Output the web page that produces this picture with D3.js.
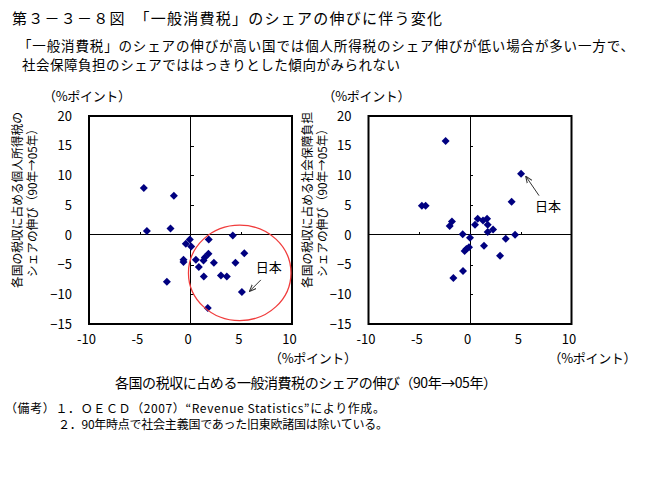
<!DOCTYPE html>
<html><head><meta charset="utf-8">
<script src="https://cdn.jsdelivr.net/npm/d3@7"></script>
<style>
body{margin:0;background:#fff;}
svg{display:block;font-family:"Noto Sans CJK JP","Noto Sans",sans-serif;}
</style></head>
<body>
<script>
// ---- Data ----
const title = "第３－３－８図　「一般消費税」のシェアの伸びに伴う変化";
const subtitle1 = "「一般消費税」のシェアの伸びが高い国では個人所得税のシェア伸びが低い場合が多い一方で、";
const subtitle2 = "社会保障負担のシェアでははっきりとした傾向がみられない";
const unitLabel = "（%ポイント）";
const xTitle = "各国の税収に占める一般消費税のシェアの伸び（90年→05年）";
const leftYTitle = ["各国の税収に占める個人所得税の", "シェアの伸び（90年→05年）"];
const rightYTitle = ["各国の税収に占める社会保障負担", "シェアの伸び（90年→05年）"];
const note1 = "（備考）１．ＯＥＣＤ（2007）“Revenue Statistics”により作成。";
const note2 = "２．90年時点で社会主義国であった旧東欧諸国は除いている。";
const xTicks = [-10, -5, 0, 5, 10];
const yTicks = [-15, -10, -5, 0, 5, 10, 15, 20];

// left panel: consumption tax share growth (x) vs personal income tax share growth (y)
const leftX = [-4.6, -1.64, -4.3, -1.97, -0.07, -0.46, 0.07, 1.8, 4.17, 5.3, 1.77, 1.41, 1.28, 0.53, -0.69, -0.69, 2.3, 4.43, 0.82, 1.31, 3.0, 3.58, -2.33, 5.06, 1.7];
const leftY = [7.9, 6.6, 0.67, 1.07, -0.79, -1.5, -1.97, -0.79, -0.1, -3.1, -3.2, -3.8, -4.3, -4.2, -4.2, -4.55, -4.7, -4.7, -5.4, -7.0, -6.85, -7.0, -7.9, -9.6, -12.3];
// right panel: consumption tax share growth (x) vs social security share growth (y)
const rightX = [-2.4, 5.03, 4.1, -4.74, -4.37, -1.78, -2.0, 0.76, 1.28, 1.68, 1.74, 0.49, 2.27, 1.74, -0.72, 0, 3.52, 4.44, 1.38, -0.1, -0.36, -0.53, 2.96, -0.69, -1.64];
const rightY = [15.8, 10.3, 5.56, 4.9, 4.9, 2.25, 1.5, 2.7, 2.4, 2.7, 1.7, 1.7, 0.9, 0.5, 0.1, -0.5, -0.67, 0, -1.85, -2.08, -2.36, -2.7, -3.5, -6.07, -7.25];
const japanLeft = [5.06, -9.6];
const japanRight = [5.03, 10.3];
const circleLeft = {cx: 4.85, cy: -6.4, rx: 5.05, ry: 8.03};

// ---- Layout ----
const W = 647, H = 491;
const svg = d3.select("body").append("svg").attr("width", W).attr("height", H);
const ff = '"Noto Sans CJK JP","Noto Sans",sans-serif';

svg.append("text").attr("x", 12).attr("y", 24).attr("font-size", 15)
  .attr("textLength", 430).attr("lengthAdjust", "spacing").text(title);
svg.append("text").attr("x", 18).attr("y", 51).attr("font-size", 13.5)
  .attr("textLength", 616).attr("lengthAdjust", "spacing").text(subtitle1);
svg.append("text").attr("x", 22).attr("y", 70).attr("font-size", 13.5)
  .attr("textLength", 378).attr("lengthAdjust", "spacing").text(subtitle2);

function panel(opt) {
  const x = d3.scaleLinear().domain([-10, 10]).range([opt.x0, opt.x1]);
  const y = d3.scaleLinear().domain([-15, 20]).range([324, 116]);
  const g = svg.append("g");

  // zero axes with inner ticks
  const ax = g.append("g").attr("transform", `translate(0,${y(0)})`)
    .call(d3.axisTop(x).tickValues([-5, 5]).tickSize(3).tickFormat(""));
  ax.select(".domain").remove();
  g.append("line").attr("x1", x(-10)).attr("x2", x(10)).attr("y1", y(0)).attr("y2", y(0))
    .attr("stroke", "#000").attr("stroke-width", 1).attr("shape-rendering", "crispEdges");
  const ay = g.append("g").attr("transform", `translate(${x(0)},0)`)
    .call(d3.axisRight(y).tickValues([-10, -5, 5, 10, 15]).tickSize(3).tickFormat(""));
  ay.select(".domain").remove();
  g.append("line").attr("x1", x(0)).attr("x2", x(0)).attr("y1", y(-15)).attr("y2", y(20))
    .attr("stroke", "#000").attr("stroke-width", 1).attr("shape-rendering", "crispEdges");
  g.selectAll(".tick line").attr("stroke", "#000").attr("shape-rendering", "crispEdges");

  // frame
  g.append("rect").attr("x", x(-10)).attr("y", y(20)).attr("width", x(10) - x(-10))
    .attr("height", y(-15) - y(20)).attr("fill", "none").attr("stroke", "#000").attr("stroke-width", 2);

  // outer labels
  const ly = g.append("g").attr("transform", `translate(${x(-10) - 17},0)`)
    .call(d3.axisLeft(y).tickValues(yTicks).tickSize(0).tickPadding(0));
  ly.select(".domain").remove();
  ly.selectAll("text").attr("font-size", 13).attr("font-family", ff).attr("fill", "#000");
  const lx = g.append("g").attr("transform", `translate(0,${y(-15) + 11})`)
    .call(d3.axisBottom(x).tickValues(xTicks).tickSize(0).tickPadding(0)
      .tickFormat(d => d < 0 ? "-" + Math.abs(d) : d));
  lx.select(".domain").remove();
  lx.selectAll("text").attr("font-size", 13).attr("font-family", ff).attr("fill", "#000").attr("dx", -3);

  // unit labels
  g.append("text").attr("x", opt.x0 - 46).attr("y", 101).attr("font-size", 13)
    .attr("textLength", 88).attr("lengthAdjust", "spacing").text(unitLabel);
  g.append("text").attr("x", opt.x1 - 23).attr("y", 363).attr("font-size", 13)
    .attr("textLength", 88).attr("lengthAdjust", "spacing").text(unitLabel);

  // y titles
  opt.ytitle.forEach((t, i) => {
    g.append("text").attr("transform", `translate(${opt.tx + i * 15},200) rotate(-90)`)
      .attr("text-anchor", "middle").attr("dominant-baseline", "central")
      .attr("font-size", 12).attr("textLength", i === 0 ? 176 : 154).attr("lengthAdjust", "spacingAndGlyphs").text(t);
  });

  // points
  const pts = opt.xs.map((v, i) => [v, opt.ys[i]]);
  g.selectAll("path.pt").data(pts).enter().append("path").attr("class", "pt")
    .attr("d", "M0,-4L4,0L0,4L-4,0Z").attr("fill", "#000080")
    .attr("transform", d => `translate(${x(d[0])},${y(d[1])})`);
  return {x, y, g};
}

const defs = svg.append("defs");
defs.append("marker").attr("id", "arr").attr("viewBox", "0 0 10 10").attr("refX", 9).attr("refY", 5)
  .attr("markerWidth", 7).attr("markerHeight", 7).attr("orient", "auto")
  .append("path").attr("d", "M0,1L10,5L0,9").attr("fill", "none").attr("stroke", "#333").attr("stroke-width", 1.5);

const L = panel({x0: 89, x1: 292, xs: leftX, ys: leftY, ytitle: leftYTitle, tx: 16});
const R = panel({x0: 368.5, x1: 571.5, xs: rightX, ys: rightY, ytitle: rightYTitle, tx: 306});

// circle
L.g.append("ellipse").attr("cx", L.x(circleLeft.cx)).attr("cy", L.y(circleLeft.cy))
  .attr("rx", L.x(circleLeft.rx) - L.x(0)).attr("ry", L.y(0) - L.y(circleLeft.ry))
  .attr("fill", "none").attr("stroke", "#f03c3c").attr("stroke-width", 1.3);

// Japan annotations
L.g.append("text").attr("x", L.x(japanLeft[0]) + 14).attr("y", L.y(japanLeft[1]) - 20).attr("font-size", 13).text("日本");
L.g.append("line").attr("x1", L.x(japanLeft[0]) + 19).attr("y1", L.y(japanLeft[1]) - 12)
  .attr("x2", L.x(japanLeft[0]) + 8).attr("y2", L.y(japanLeft[1]) - 1)
  .attr("stroke", "#333").attr("stroke-width", 1).attr("marker-end", "url(#arr)");
R.g.append("text").attr("x", R.x(japanRight[0]) + 14).attr("y", R.y(japanRight[1]) + 37).attr("font-size", 13).text("日本");
R.g.append("line").attr("x1", R.x(japanRight[0]) + 18).attr("y1", R.y(japanRight[1]) + 22)
  .attr("x2", R.x(japanRight[0]) + 5).attr("y2", R.y(japanRight[1]) + 3)
  .attr("stroke", "#333").attr("stroke-width", 1).attr("marker-end", "url(#arr)");

// bottom title and notes
svg.append("text").attr("x", 115).attr("y", 388).attr("font-size", 14)
  .attr("textLength", 382).attr("lengthAdjust", "spacing").text(xTitle);
svg.append("text").attr("x", 5).attr("y", 413).attr("font-size", 12)
  .attr("textLength", 380).attr("lengthAdjust", "spacing").text(note1);
svg.append("text").attr("x", 58).attr("y", 429).attr("font-size", 12)
  .attr("textLength", 330).attr("lengthAdjust", "spacing").text(note2);
</script>
</body></html>
